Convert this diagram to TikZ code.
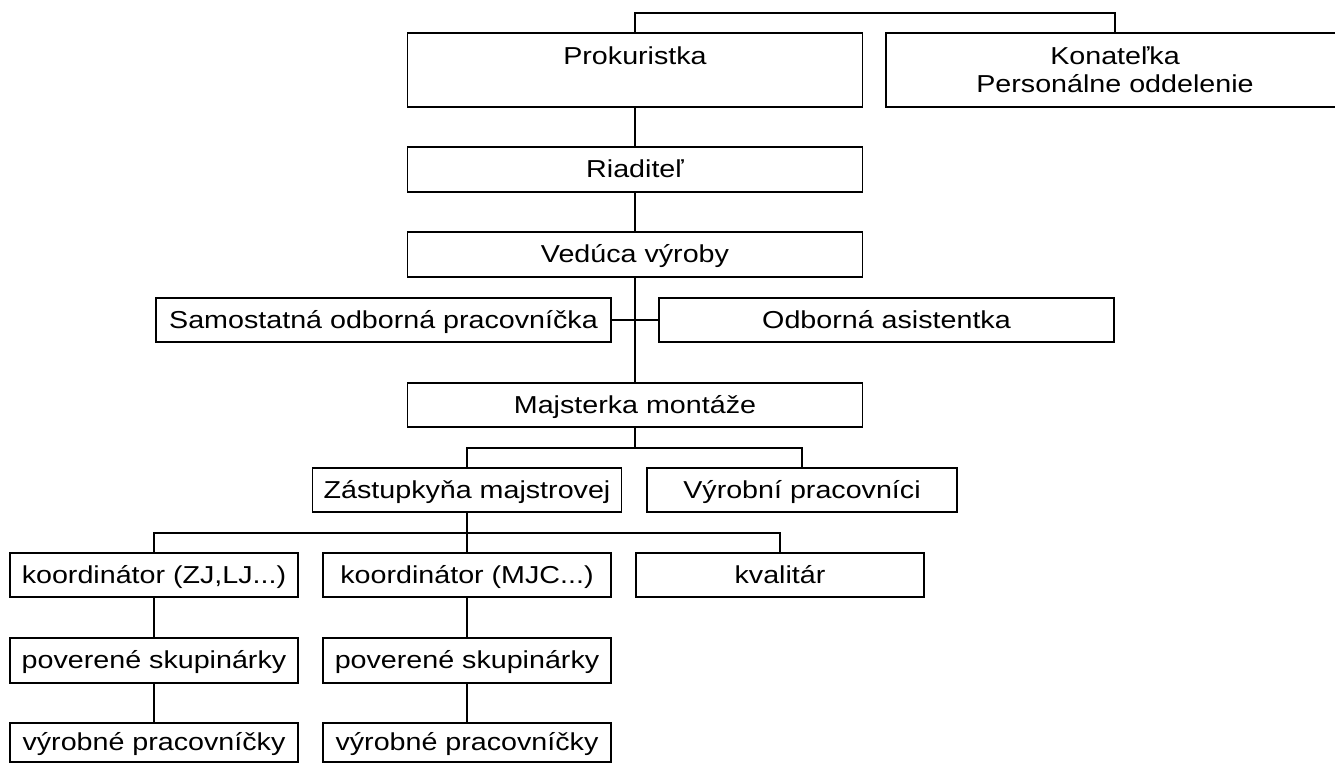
\documentclass[tikz,border=0pt]{standalone}
\usepackage{fontspec}
\setmainfont{Liberation Sans}[FakeStretch=1.17]
\newcommand{\chartfont}{\fontsize{24.5}{28.4}\selectfont}
\begin{document}
\begin{tikzpicture}[x=1pt,y=-1pt,
  box/.style={draw, line width=1.8pt, inner sep=0pt, align=center, font=\chartfont},
  one/.style={text height=21pt, text depth=4.4pt},
  conn/.style={line width=1.8pt}]
\useasboundingbox (0,0) rectangle (1335,763);
\begin{scope}
\clip (0,0) rectangle (1335,763);
\node[box, minimum width=455pt, minimum height=74pt] (prok) at (635,70) {Prokuristka\\\mbox{}};
\node[box, minimum width=458pt, minimum height=74pt] (kon) at (1115,70) {Konateľka\\Personálne oddelenie};
\node[box, one, minimum width=455pt, minimum height=45pt] (riad) at (635,169.5) {Riaditeľ};
\node[box, one, minimum width=455pt, minimum height=45pt] (ved) at (635,254.5) {Vedúca výroby};
\node[box, one, minimum width=455pt, minimum height=44pt] (sam) at (383.5,320) {Samostatná odborná pracovníčka};
\node[box, one, minimum width=455pt, minimum height=44pt] (odb) at (886.5,320) {Odborná asistentka};
\node[box, one, minimum width=455pt, minimum height=44pt] (maj) at (635,405) {Majsterka montáže};
\node[box, one, minimum width=309pt, minimum height=44pt] (zas) at (467,490) {Zástupkyňa majstrovej};
\node[box, one, minimum width=310pt, minimum height=44pt] (vyr) at (802,490) {Výrobní pracovníci};
\node[box, one, minimum width=288pt, minimum height=44pt] (k1) at (154,575) {koordinátor (ZJ,LJ...)};
\node[box, one, minimum width=288pt, minimum height=44pt] (k2) at (467,575) {koordinátor (MJC...)};
\node[box, one, minimum width=288pt, minimum height=44pt] (kv) at (780,575) {kvalitár};
\node[box, one, minimum width=288pt, minimum height=45pt] (p1) at (154,660.5) {poverené skupinárky};
\node[box, one, minimum width=288pt, minimum height=45pt] (p2) at (467,660.5) {poverené skupinárky};
\node[box, one, minimum width=288pt, minimum height=39pt] (v1) at (154,742.5) {výrobné pracovníčky};
\node[box, one, minimum width=288pt, minimum height=39pt] (v2) at (467,742.5) {výrobné pracovníčky};
\coordinate (b1) at (635,13);
\coordinate (b2) at (635,448);
\coordinate (b3) at (467,533);
\draw[conn] (prok.north) -- (b1) -| (kon.north);
\draw[conn] (prok.south) -- (riad.north);
\draw[conn] (riad.south) -- (ved.north);
\draw[conn] (ved.south) -- (maj.north);
\draw[conn] (sam.east) -- (odb.west);
\draw[conn] (maj.south) -- (b2);
\draw[conn] (zas.north) |- (b2) -| (vyr.north);
\draw[conn] (zas.south) -- (b3);
\draw[conn] (k1.north) |- (b3) -| (kv.north);
\draw[conn] (b3) -- (k2.north);
\draw[conn] (k1.south) -- (p1.north);
\draw[conn] (p1.south) -- (v1.north);
\draw[conn] (k2.south) -- (p2.north);
\draw[conn] (p2.south) -- (v2.north);
\end{scope}
\end{tikzpicture}
\end{document}
